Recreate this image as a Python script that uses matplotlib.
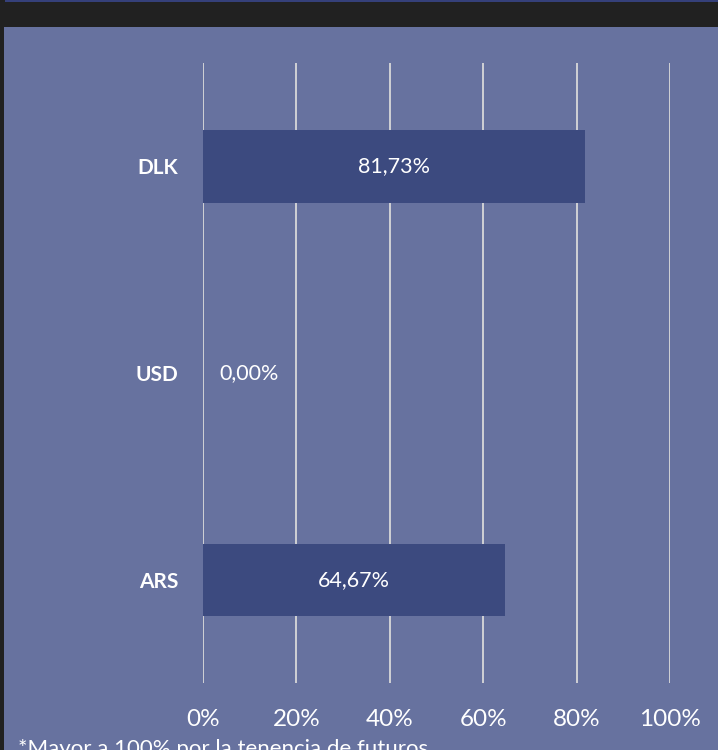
import matplotlib
matplotlib.use('Agg')
from matplotlib import pyplot as plt
import matplotlib.patches as patches

# data
categories = ['DLK', 'USD', 'ARS']
values = [81.73, 0.00, 64.67]
xticks = [0, 20, 40, 60, 80, 100]
xticklabels = ['0%', '20%', '40%', '60%', '80%', '100%']
note = '*Mayor a 100% por la tenencia de futuros'

plt.rcParams['font.family'] = ['Lato', 'DejaVu Sans']

W, H = 718, 750
fig = plt.figure(figsize=(W/100, H/100), dpi=100)
fig.patch.set_facecolor('#212121')

# slate panel and thin top line
fig.patches.append(patches.Rectangle((4/W, 0), 1, 1-27/H, transform=fig.transFigure,
                                     facecolor='#67729F', edgecolor='none', zorder=-2))
fig.patches.append(patches.Rectangle((5/W, 1-1.5/H), 1, 1.5/H, transform=fig.transFigure,
                                     facecolor='#35407A', edgecolor='none', zorder=-2))

ax = fig.add_axes([203/W, 1-683/H, (670-203)/W, (683-63)/H])
ax.set_facecolor('none')
ax.set_xlim(0, 100)
ax.set_ylim(2.5, -0.5)

ypos = list(range(len(categories)))
ax.barh(ypos, values, height=0.35, color='#3C4A7F', zorder=3)

for y, v in zip(ypos, values):
    lab = f'{v:.2f}%'.replace('.', ',')
    if v > 5:
        ax.text(v/2, y, lab, ha='center', va='center', color='white', fontsize=15.5, zorder=4)
    else:
        ax.text(v + 3.4, y, lab, ha='left', va='center', color='white', fontsize=15.5, zorder=4)

ax.set_xticks(xticks)
ax.set_xticklabels(xticklabels, color='white', fontsize=17.5)
ax.set_yticks(ypos)
ax.set_yticklabels(categories, color='white', fontsize=15, fontweight='bold')
ax.tick_params(axis='x', length=0, pad=18.5)
ax.tick_params(axis='y', length=0, pad=18)
ax.grid(axis='x', color='#D9D9D9', linewidth=1.3, zorder=1)
for s in ax.spines.values():
    s.set_visible(False)

fig.text(18/W, -5/H, note, color='white', fontsize=16, ha='left', va='baseline')

plt.savefig('out.png', dpi=100, facecolor=fig.get_facecolor())
